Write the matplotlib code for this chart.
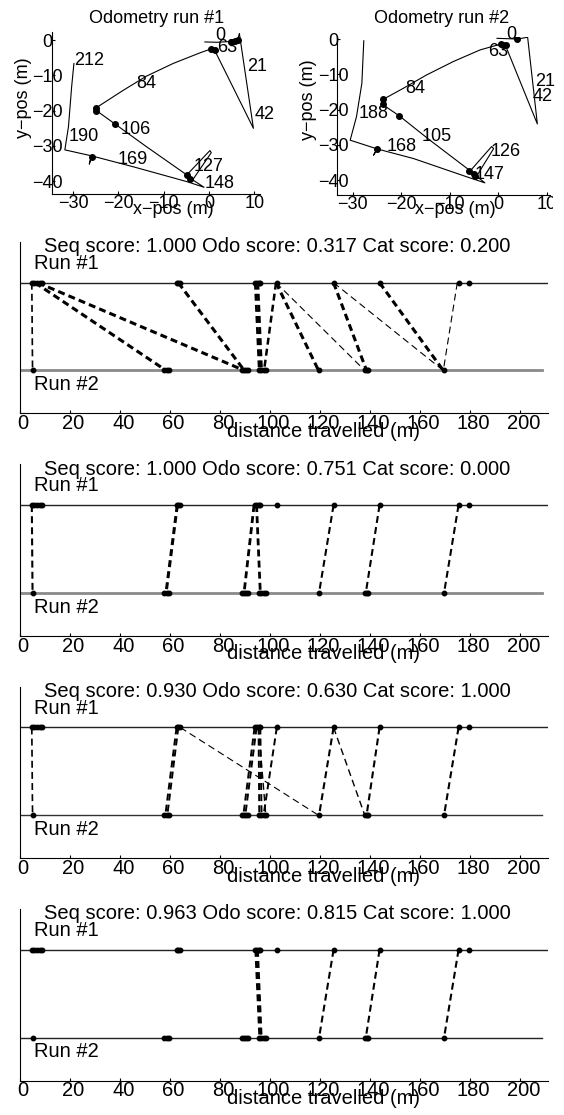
import matplotlib
matplotlib.use("Agg")
import matplotlib.pyplot as plt
from matplotlib.transforms import Bbox, TransformedBbox, ScaledTranslation

plt.rcParams['font.family'] = ['Liberation Sans', 'DejaVu Sans']
plt.rcParams['lines.scale_dashes'] = False

# --- odometry, run #1 (metres) ---
odo1_x = [-0.9, 1.7, 4.6, 6.3, 6.7, 9.8, 1.3, 0.4, -2.0, -7.9, -13.8, -18.9, -24.8, -24.8,
          -20.7, -13.8, -4.9, 0.2, 0.5, -3.6, -1.1, -4.9, -16.7, -25.9, -26.4, -25.9,
          -31.8, -31.0, -30.3, -29.8]
odo1_y = [-0.5, -0.6, -0.4, 0.0, 1.9, -25.0, -3.0, -2.5, -3.6, -6.6, -10.2, -14.2, -19.1, -20.0,
          -23.8, -30.2, -38.2, -31.3, -31.9, -39.6, -41.7, -40.1, -35.9, -32.8, -35.1, -32.8,
          -31.1, -24.5, -13.2, -6.6]
odo1_dot_x = [4.8, 5.7, 6.4, 0.4, 1.3, -24.9, -24.9, -20.7, -4.9, -4.2, -25.9]
odo1_dot_y = [-0.4, -0.2, 0.0, -2.5, -2.8, -19.1, -20.0, -23.8, -38.2, -39.3, -33.0]
odo1_lbl = ['0', '21', '42', '63', '84', '106', '127', '148', '169', '190', '212']
odo1_lbl_x = [1.3, 8.3, 10.1, 1.9, -16.0, -19.5, -3.5, -0.9, -20.2, -31.0, -29.8]
odo1_lbl_y = [1.3, -7.5, -21.2, -2.1, -12.3, -25.3, -35.8, -40.6, -33.8, -27.3, -5.7]

# --- odometry, run #2 (metres) ---
odo2_x = [-0.3, 3.9, 6.0, 8.0, 1.7, 0.3, -3.8, -9.3, -14.8, -19.6, -23.7, -23.7, -20.4,
          -14.1, -5.8, -1.4, -1.0, -4.5, -2.8, -6.5, -17.5, -24.9, -25.7, -24.9, -30.5,
          -29.2, -28.1, -27.7]
odo2_y = [0.2, 0.0, 0.5, -24.1, -2.7, -1.5, -3.1, -6.4, -10.2, -14.0, -17.1, -18.7, -21.8,
          -28.7, -37.4, -30.5, -31.1, -38.9, -40.8, -39.1, -33.9, -31.2, -32.9, -31.2, -28.7,
          -22.0, -12.6, -0.5]
odo2_dot_x = [3.9, 0.5, 1.0, 1.6, -23.8, -23.7, -20.4, -6.0, -5.1, -4.8, -24.9]
odo2_dot_y = [0.0, -1.5, -1.6, -1.7, -17.1, -18.4, -21.8, -37.4, -38.3, -38.9, -31.2]
odo2_lbl = ['0', '63', '21', '42', '84', '188', '105', '168', '126', '147']
odo2_lbl_x = [1.7, -2.1, 7.5, 7.1, -19.2, -28.8, -15.8, -23.1, -1.6, -5.0]
odo2_lbl_y = [1.4, -3.4, -12.0, -16.2, -14.0, -21.0, -27.6, -30.4, -32.0, -38.3]

# --- places along each run (distance travelled, m) ---
run1_places = [4.5, 5.6, 6.7, 7.8, 8.8, 62.5, 63.2, 64.0, 93.7, 94.5, 95.3, 96.0,
               102.6, 125.3, 143.7, 175.3, 179.3]
run2_places = [4.9, 57.6, 58.6, 59.6, 88.8, 89.6, 90.4, 91.1, 95.4, 96.4, 97.3, 98.2,
               119.5, 137.8, 138.5, 139.2, 169.5]
run1_length = 212.0
run2_length = 208.5

titles = ['Seq score: 1.000 Odo score: 0.317 Cat score: 0.200',
          'Seq score: 1.000 Odo score: 0.751 Cat score: 0.000',
          'Seq score: 0.930 Odo score: 0.630 Cat score: 1.000',
          'Seq score: 0.963 Odo score: 0.815 Cat score: 1.000']

# matches per panel: run #1 distance, run #2 distance, line weight
match_from = [
    [4.6, 5.9, 7.0, 63.2, 94.0, 95.0, 102.3, 102.3, 102.3, 125.3, 125.3, 143.7, 174.8],
    [4.6, 62.8, 93.5, 94.5, 125.3, 143.7, 175.3],
    [4.6, 62.5, 63.2, 64.0, 93.7, 94.5, 95.3, 96.0, 95.3, 102.6, 125.3, 125.3, 143.7, 175.3],
    [94.2, 95.0, 125.3, 143.7, 175.3],
]
match_to = [
    [4.9, 58.3, 89.6, 89.6, 95.6, 96.5, 97.5, 119.3, 137.8, 138.5, 169.2, 169.2, 169.2],
    [4.9, 58.3, 89.5, 96.0, 119.5, 138.2, 169.5],
    [4.9, 58.0, 58.8, 119.3, 89.2, 90.0, 95.6, 96.5, 98.2, 97.3, 119.5, 137.8, 138.5, 169.5],
    [95.8, 96.5, 119.5, 138.2, 169.5],
]
match_w = [
    [1.2, 2.2, 2.2, 2.2, 2.0, 2.0, 1.8, 2.2, 0.8, 2.2, 0.8, 2.2, 0.8],
    [1.5, 2.2, 2.0, 2.0, 1.5, 1.5, 1.5],
    [1.2, 1.4, 1.4, 0.8, 1.4, 1.4, 1.4, 1.4, 1.0, 1.4, 1.5, 1.0, 1.5, 1.5],
    [2.0, 1.5, 1.5, 1.5, 1.5],
]
run2_line_color = ['#8a8a8a', '#8a8a8a', '#333333', '#222222']
run2_line_width = [2.0, 2.0, 1.0, 1.0]

W, H = 564.0, 1115.0
fig = plt.figure(figsize=(W / 100, H / 100), dpi=100)


def px_axes(left, top, right, bottom):
    return fig.add_axes([left / W, 1 - bottom / H, (right - left) / W, (bottom - top) / H])


def style_axes(ax, fs, ypad):
    for side in ('top', 'right'):
        ax.spines[side].set_visible(False)
    for side in ('left', 'bottom'):
        ax.spines[side].set_linewidth(0.8)
    ax.tick_params(direction='in', length=2.5, width=0.8, labelsize=fs, pad=0.5)
    ax.tick_params(axis='y', pad=ypad)


def odo_panel(rect, xs, ys, dx, dy, labels, lx, ly, xlim, ylim):
    ax = px_axes(*rect)
    ax.plot(xs, ys, color='black', lw=0.8)
    ax.plot(dx, dy, 'o', color='black', ms=4)
    for s, x, y in zip(labels, lx, ly):
        ax.text(x, y, s, fontsize=13, ha='left', va='center')
    ax.set_xlim(xlim)
    ax.set_ylim(ylim)
    ax.set_xticks([-30, -20, -10, 0, 10])
    ax.set_yticks([-40, -30, -20, -10, 0])
    style_axes(ax, 13, 3)
    plt.setp(ax.get_yticklabels(), ha='center')
    return ax


ax1 = odo_panel((51.7, 31.7, 260, 194.3), odo1_x, odo1_y, odo1_dot_x, odo1_dot_y,
                odo1_lbl, odo1_lbl_x, odo1_lbl_y, (-34.7, 11.25), (-43.7, 2.4))
ax2 = odo_panel((337.3, 36.7, 550, 195), odo2_x, odo2_y, odo2_dot_x, odo2_dot_y,
                odo2_lbl, odo2_lbl_x, odo2_lbl_y, (-33.15, 10.6), (-44.25, 0.66))
clip = TransformedBbox(Bbox([[0, 0], [553 / W, 1]]), fig.transFigure)
for lab in ax2.get_xticklabels():
    lab.set_clip_box(clip)
    lab.set_clip_on(True)

fig.text(157 / W, 1 - 18.3 / H, 'Odometry run #1', fontsize=13, ha='center', va='center')
fig.text(441.7 / W, 1 - 18.3 / H, 'Odometry run #2', fontsize=13, ha='center', va='center')
fig.text(173.3 / W, 1 - 210 / H, 'x\u2212pos (m)', fontsize=13, ha='center', va='center')
fig.text(455.7 / W, 1 - 209.3 / H, 'x\u2212pos (m)', fontsize=13, ha='center', va='center')
fig.text(24 / W, 1 - 98 / H, 'y\u2212pos (m)', fontsize=13, ha='center', va='center', rotation=90)
fig.text(308.3 / W, 1 - 100 / H, 'y\u2212pos (m)', fontsize=13, ha='center', va='center', rotation=90)

# --- match panels ---
fs = 14.5
shift = ScaledTranslation(3 / 100, 0, fig.dpi_scale_trans)
for i in range(4):
    top = 241.7 + 222.4 * i
    ax = px_axes(20.3, top, 547.8, top + 171.8)
    ax.plot([0, run1_length], [1, 1], color='#222222', lw=1.0)
    ax.plot([0, run2_length], [0, 0], color=run2_line_color[i], lw=run2_line_width[i])
    for a, b, w in zip(match_from[i], match_to[i], match_w[i]):
        ax.plot([a, b], [1, 0], color='black', lw=w, ls=(0, (5, 3)))
    ax.plot(run1_places, [1] * len(run1_places), 'o', color='black', ms=3.2)
    ax.plot(run2_places, [0] * len(run2_places), 'o', color='black', ms=3.2)
    ax.set_xlim(0, 211)
    ax.set_ylim(-0.49, 1.467)
    ax.set_xticks(range(0, 201, 20))
    ax.set_yticks([])
    style_axes(ax, fs, 3)
    # tick labels sit a little right of their ticks, as in the original
    for lab in ax.get_xticklabels():
        lab.set_transform(lab.get_transform() + shift)
    ax.text(102.9, 1.41, titles[i], fontsize=fs, ha='center', va='center')
    ax.text(5.6, 1.221, 'Run #1', fontsize=fs, ha='left', va='center')
    ax.text(5.6, -0.163, 'Run #2', fontsize=fs, ha='left', va='center')
    ax.text(121.3, -0.695, 'distance travelled (m)', fontsize=fs, ha='center', va='center',
            clip_on=False)

fig.savefig('out.png', dpi=100)
